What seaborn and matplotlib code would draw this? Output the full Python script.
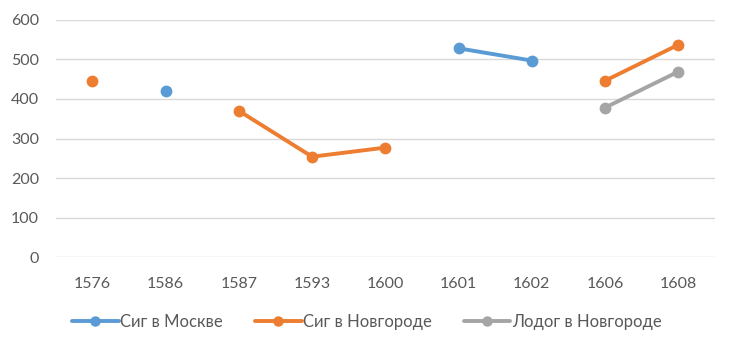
import seaborn as sns
import numpy as np
import pandas as pd
import matplotlib.pyplot as plt
from matplotlib.lines import Line2D

years = ['1576', '1586', '1587', '1593', '1600', '1601', '1602', '1606', '1608']
series_names = ['Сиг в Москве', 'Сиг в Новгороде', 'Лодог в Новгороде']
colors = ['#5B9BD5', '#ED7D31', '#A5A5A5']

# values per year (NaN = no data, breaks the line)
sig_moskva = [np.nan, 420, np.nan, np.nan, np.nan, 528, 497, np.nan, np.nan]
sig_novgorod = [446, np.nan, 370, 254, 277, np.nan, np.nan, 446, 537]
lodog_novgorod = [np.nan, np.nan, np.nan, np.nan, np.nan, np.nan, np.nan, 378, 469]

# long table, with a segment id so gaps are not joined
rows = []
for name, vals in zip(series_names, [sig_moskva, sig_novgorod, lodog_novgorod]):
    seg = 0
    for i, v in enumerate(vals):
        if np.isnan(v):
            seg += 1
            continue
        rows.append({'x': i, 'value': v, 'series': name, 'seg': name + str(seg)})
df = pd.DataFrame(rows)

sns.set_style('white')
plt.rcParams['font.family'] = ['Lato', 'DejaVu Sans']

fig, ax = plt.subplots(figsize=(7.34, 3.48), dpi=100)
fig.subplots_adjust(left=0.076, right=0.974, top=0.943, bottom=0.261)

sns.lineplot(data=df, x='x', y='value', hue='series', units='seg', estimator=None,
             hue_order=series_names, palette=colors, marker='o', markersize=8.5,
             markeredgewidth=0, linewidth=2.8, legend=False, ax=ax, zorder=3)

ax.set_xlim(-0.5, len(years) - 0.5)
ax.set_ylim(0, 600)
ax.set_yticks(range(0, 601, 100))
ax.set_xticks(range(len(years)))
ax.set_xticklabels(years)
ax.set_xlabel('')
ax.set_ylabel('')
ax.grid(axis='y', color='#D9D9D9', linewidth=1)
for s in ax.spines.values():
    s.set_visible(False)
ax.tick_params(axis='both', length=0, labelsize=11.5, colors='#595959')
ax.tick_params(axis='x', pad=14)
ax.tick_params(axis='y', pad=12)

handles = [Line2D([0], [0], color=c, linewidth=2.8, marker='o', markersize=7.5,
                  markeredgewidth=0) for c in colors]
fig.legend(handles, series_names, loc='center', bbox_to_anchor=(0.5, 0.075), ncol=3,
           frameon=False, fontsize=12, labelcolor='#595959', handlelength=2.8,
           handletextpad=0.1, columnspacing=1.9)

plt.savefig('out.png')
